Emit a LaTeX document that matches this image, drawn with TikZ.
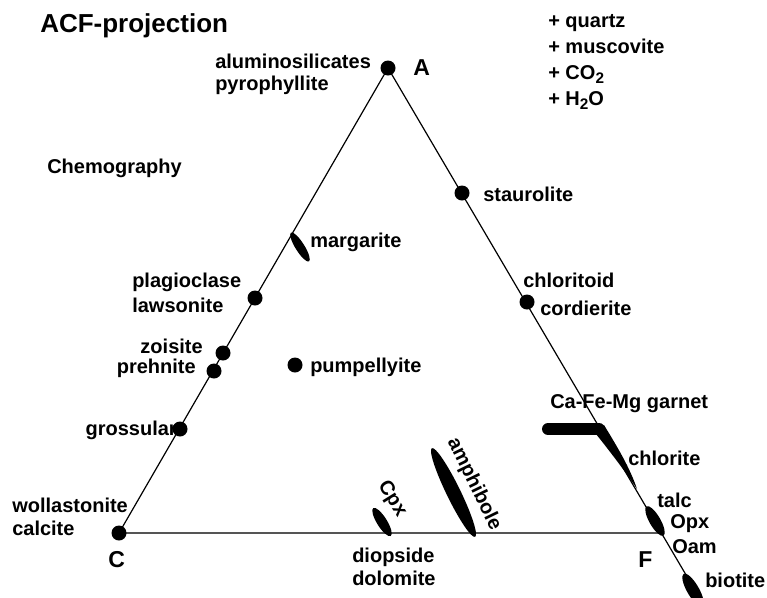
\documentclass[tikz,border=0pt]{standalone}
\usepackage{fontspec}
\setmainfont{Liberation Sans}
\usetikzlibrary{shapes.geometric}
\definecolor{basegray}{RGB}{85,85,85}
\newcommand{\lowsub}[1]{\raisebox{-0.4ex}{\fontsize{11.5}{12}\selectfont #1}}
\begin{document}
\begin{tikzpicture}[x=0.75pt,y=-0.75pt,
  lbl/.style={font=\fontsize{15}{18}\selectfont\bfseries, inner sep=0pt},
  vtx/.style={font=\fontsize{17.25}{20}\selectfont\bfseries, inner sep=0pt},
  ttl/.style={font=\fontsize{19.5}{23}\selectfont\bfseries, inner sep=0pt},
  dot/.style={circle, fill=black, inner sep=0pt, minimum size=11.25pt},
  blob/.style={ellipse, fill=black, inner sep=0pt},
  edgeline/.style={line width=0.9pt, black},
  baseline/.style={line width=1.4pt, basegray}]
\useasboundingbox (0,0) rectangle (767,597);
% triangle
\coordinate (A) at (388,68);
\coordinate (C) at (119,533);
\coordinate (F) at (661,533);
\coordinate (Fend) at (699,597);
\draw[edgeline] (A) -- (C);
\draw[edgeline] (A) -- (Fend);
\draw[baseline] (C) -- (F);
% point phases
\node[dot] (dA) at (A) {};
\node[dot] (dC) at (C) {};
\node[dot] (staur) at (462,193) {};
\node[dot] (chltd) at (527,302) {};
\node[dot] (plag) at (255,298) {};
\node[dot] (zois) at (223,353) {};
\node[dot] (preh) at (214,371) {};
\node[dot] (gros) at (180,429) {};
\node[dot] (pump) at (295,365) {};
% solid-solution blobs
\node[blob, minimum width=25.5pt, minimum height=6.75pt, rotate=-58] (marg) at (300,247) {};
\node[blob, minimum width=24.75pt, minimum height=7.5pt, rotate=-58] (cpx) at (382,522) {};
\node[blob, minimum width=74pt, minimum height=10.5pt, rotate=-64] (amph) at (453.5,492.5) {};
\node[blob, minimum width=25.5pt, minimum height=8.25pt, rotate=-60] (talc) at (655,521) {};
\node[blob, minimum width=28pt, minimum height=9pt, rotate=-60] (biot) at (693,590) {};
\coordinate (garL) at (548,429);
\coordinate (garR) at (599,429);
\draw[line width=9pt, line cap=round] (garL) -- (garR);
\fill (604,425) .. controls (618,448) and (630,468) .. (637,489)
      .. controls (627,474) and (612,454) .. (596,434) -- cycle;
% labels
\node[ttl, anchor=base west] (title) at (40,32) {ACF-projection};
\node[lbl, anchor=base west] (q) at (548,27) {+ quartz};
\node[lbl, anchor=base west] (mu) at (548,53) {+ muscovite};
\node[lbl, anchor=base west] (co) at (548,79) {+ CO\lowsub{2}};
\node[lbl, anchor=base west] (ho) at (548,105) {+ H\lowsub{2}O};
\node[lbl, anchor=base west] (alu) at (215,68) {aluminosilicates};
\node[lbl, anchor=base west] (pyr) at (215,90) {pyrophyllite};
\node[vtx, anchor=base west] (lA) at (413,75) {A};
\node[lbl, anchor=base west] (chem) at (47,173) {Chemography};
\node[lbl, anchor=base west] (lstaur) at (483,201) {staurolite};
\node[lbl, anchor=base west] (lmarg) at (310,247) {margarite};
\node[lbl, anchor=base west] (lplag) at (132,287) {plagioclase};
\node[lbl, anchor=base west] (llaws) at (132,312) {lawsonite};
\node[lbl, anchor=base east] (lzois) at (203,353) {zoisite};
\node[lbl, anchor=base east] (lpreh) at (196,373) {prehnite};
\node[lbl, anchor=base west] (lpump) at (310,372) {pumpellyite};
\node[lbl, anchor=base west] (lchltd) at (523,287) {chloritoid};
\node[lbl, anchor=base west] (lcord) at (540,315) {cordierite};
\node[lbl, anchor=base west] (lgar) at (550,408) {Ca-Fe-Mg garnet};
\node[lbl, anchor=base east] (lgros) at (177,435) {grossular};
\node[lbl, anchor=base west] (lchl) at (628,465) {chlorite};
\node[lbl, anchor=base west] (ltalc) at (657,507) {talc};
\node[lbl, anchor=base west] (lopx) at (670,528) {Opx};
\node[lbl, anchor=base west] (loam) at (672,553) {Oam};
\node[lbl, anchor=base west] (lwoll) at (12,512) {wollastonite};
\node[lbl, anchor=base west] (lcalc) at (12,535) {calcite};
\node[vtx, anchor=base west] (lC) at (108,567) {C};
\node[lbl, anchor=base west] (ldiop) at (352,562) {diopside};
\node[lbl, anchor=base west] (ldolo) at (352,585) {dolomite};
\node[vtx, anchor=base west] (lF) at (638,567) {F};
\node[lbl, anchor=base west] (lbiot) at (705,587) {biotite};
\node[lbl, rotate=-58] (lcpx) at (392,499) {Cpx};
\node[lbl, rotate=-64] (lamph) at (474,484) {amphibole};
\end{tikzpicture}
\end{document}
